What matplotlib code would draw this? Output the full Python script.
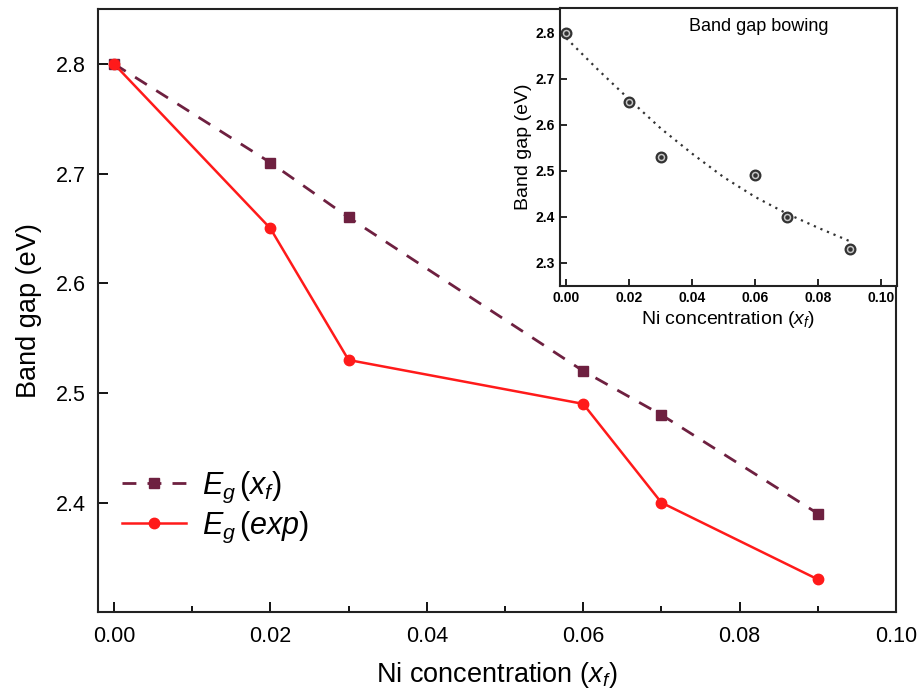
import matplotlib
matplotlib.use("Agg")
import matplotlib.pyplot as plt
from matplotlib.ticker import MultipleLocator

plt.rcParams['font.family'] = ['Liberation Sans', 'DejaVu Sans']
plt.rcParams['mathtext.fontset'] = 'custom'
plt.rcParams['mathtext.rm'] = 'Liberation Sans'
plt.rcParams['mathtext.it'] = 'Liberation Sans:italic'
plt.rcParams['mathtext.bf'] = 'Liberation Sans:bold'

# Data
ni_conc = [0.0, 0.02, 0.03, 0.06, 0.07, 0.09]
eg_xf = [2.80, 2.71, 2.66, 2.52, 2.48, 2.39]
eg_exp = [2.80, 2.65, 2.53, 2.49, 2.40, 2.33]

# inset bowing fit curve
fit_x = [0.0, 0.01, 0.02, 0.03, 0.04, 0.05, 0.06, 0.07, 0.08, 0.09]
fit_y = [2.788, 2.72, 2.655, 2.592, 2.537, 2.486, 2.443, 2.407, 2.376, 2.347]

main_xticks = [0.00, 0.02, 0.04, 0.06, 0.08, 0.10]
main_yticks = [2.4, 2.5, 2.6, 2.7, 2.8]
inset_yticks = [2.3, 2.4, 2.5, 2.6, 2.7, 2.8]

maroon = '#6E2040'
red = '#FF1A1A'

fig = plt.figure(figsize=(9.17, 6.93), dpi=100)
ax = fig.add_axes([0.1072, 0.1165, 0.8699, 0.8705])

ax.plot(ni_conc, eg_xf, color=maroon, lw=2.0, ls=(0, (5, 4)), marker='s', ms=6.5,
        mfc=maroon, mec=maroon, label=r'$E_g\,(x_f)$', zorder=3)
ax.plot(ni_conc, eg_exp, color=red, lw=1.8, ls='-', marker='o', ms=7.5,
        mfc=red, mec=red, label=r'$E_g\,(exp)$', zorder=4)

ax.set_xlim(-0.002, 0.100)
ax.set_ylim(2.30, 2.85)
ax.set_xticks(main_xticks)
ax.set_xticklabels([f'{v:.2f}' for v in main_xticks])
ax.xaxis.set_minor_locator(MultipleLocator(0.01))
ax.set_yticks(main_yticks)
ax.set_yticklabels([f'{v:.1f}' for v in main_yticks])
ax.tick_params(which='both', direction='in', labelsize=15.5, width=1.3)
ax.tick_params(which='major', length=7)
ax.tick_params(which='minor', length=4)
ax.tick_params(axis='x', pad=10)
ax.tick_params(axis='y', pad=9)
for s in ax.spines.values():
    s.set_linewidth(1.5)
    s.set_color('#222222')

ax.set_xlabel(r'Ni concentration $(x_f)$', fontsize=19.5, labelpad=9)
ax.set_ylabel('Band gap (eV)', fontsize=19.5, labelpad=10)

leg = ax.legend(loc='upper left', bbox_to_anchor=(0.03, 0.236), frameon=False,
                fontsize=22, handlelength=2.1, handletextpad=0.5, labelspacing=0.15,
                borderpad=0, borderaxespad=0)

# Inset
ins = fig.add_axes([0.6107, 0.5877, 0.3672, 0.4003])
ins.set_facecolor('white')
ins.plot(fit_x, fit_y, color='#333333', lw=1.6, ls=(0, (1, 2.2)), zorder=2)
ins.plot(ni_conc, eg_exp, ls='none', marker='o', ms=7, mfc='#c8c8c8',
         mec='#333333', mew=1.6, zorder=3)
ins.plot(ni_conc, eg_exp, ls='none', marker='o', ms=2.2, mfc='#333333',
         mec='#333333', zorder=4)
ins.set_xlim(-0.002, 0.105)
ins.set_ylim(2.25, 2.853)
ins.set_xticks(main_xticks)
ins.set_xticklabels([f'{v:.2f}' for v in main_xticks], fontweight='bold')
ins.set_yticks(inset_yticks)
ins.set_yticklabels([f'{v:.1f}' for v in inset_yticks], fontweight='bold')
ins.tick_params(direction='in', labelsize=10, length=5, width=1.2)
for s in ins.spines.values():
    s.set_linewidth(1.5)
    s.set_color('#222222')
ins.set_xlabel(r'Ni concentration $(x_f)$', fontsize=14, labelpad=3)
ins.set_ylabel('Band gap (eV)', fontsize=14, labelpad=3)
ins.text(0.59, 0.935, 'Band gap bowing', transform=ins.transAxes, fontsize=13,
         ha='center', va='center')

fig.savefig('out.png', dpi=100)
